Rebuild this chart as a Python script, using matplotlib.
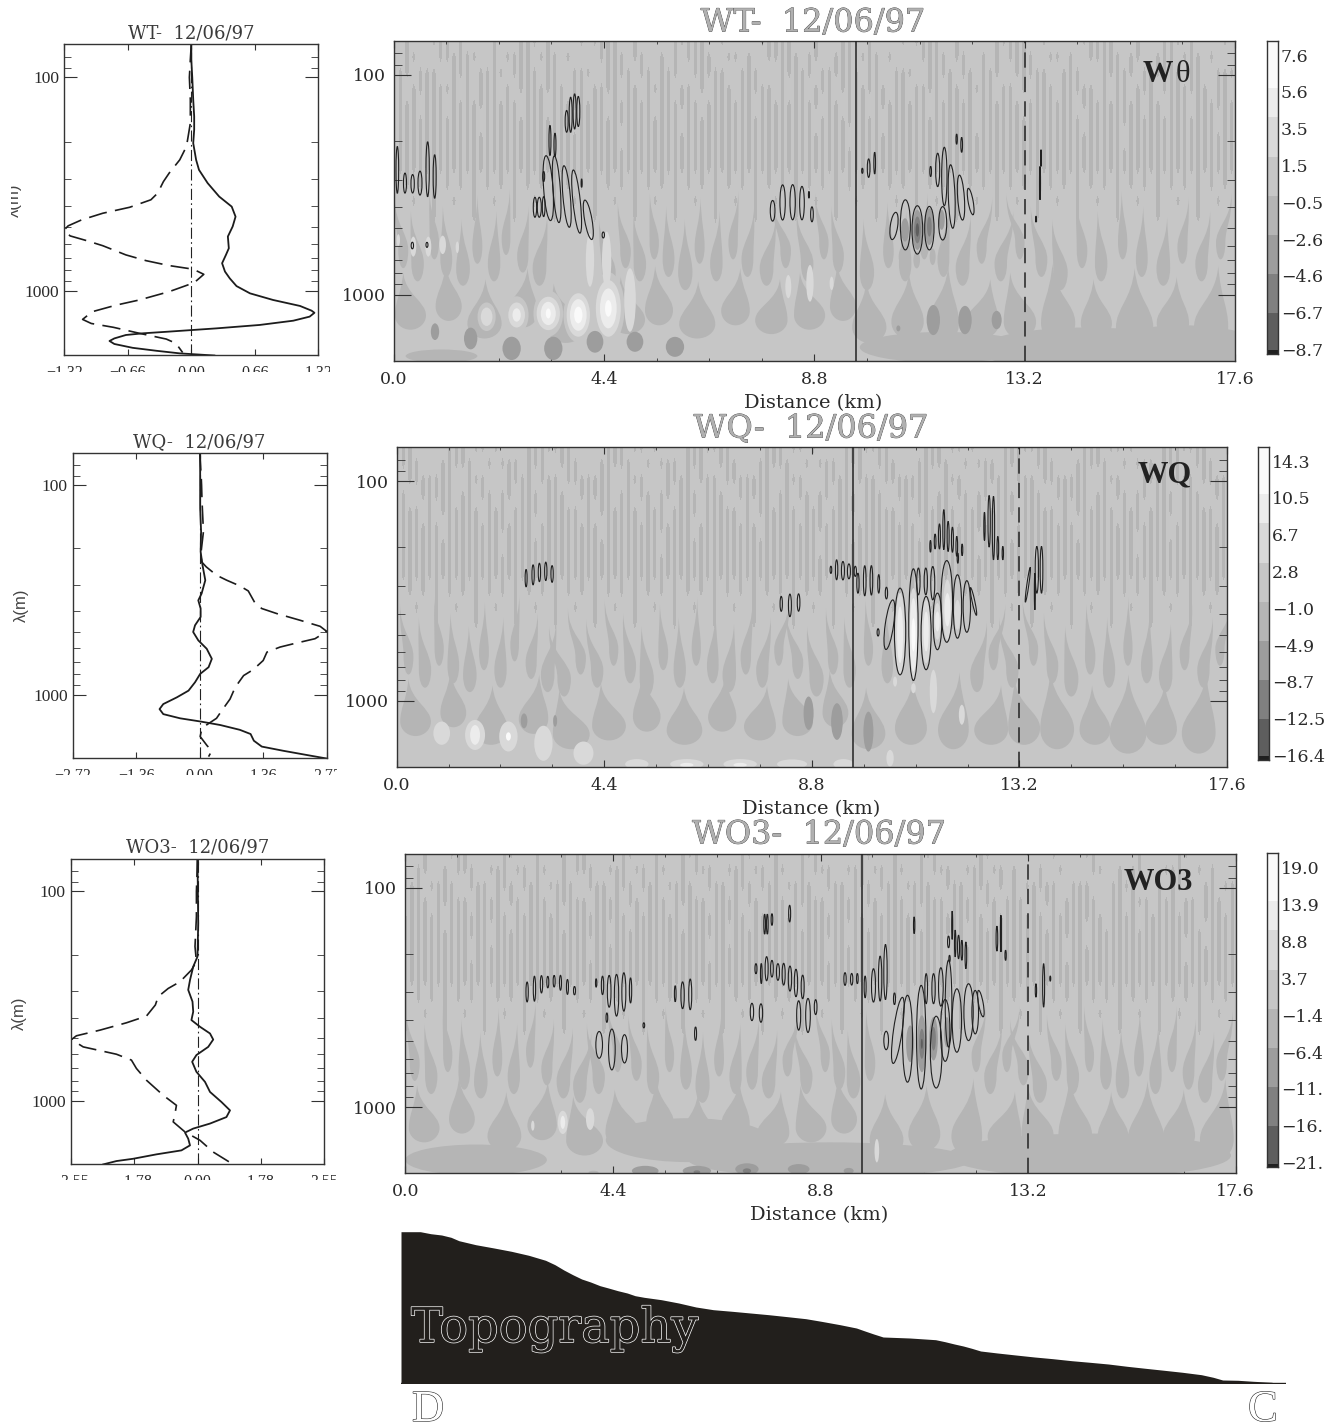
#!/usr/bin/env python3
import numpy as np
import matplotlib
matplotlib.use('Agg')
import matplotlib.pyplot as plt
import matplotlib.patheffects as pe
from matplotlib.colors import ListedColormap
from matplotlib.patches import Ellipse, PathPatch
from matplotlib.path import Path
from matplotlib.ticker import LogLocator, NullFormatter
from matplotlib.transforms import Bbox, IdentityTransform

W, H = 1344, 1424
DATE = '12/06/97'
SERIF = 'DejaVu Serif'
TIMES = 'Liberation Serif'
INK = '#2a2a2a'
GREYS = ['#5e5e5e', '#808080', '#9d9d9d', '#b5b5b5', '#c6c6c6', '#d9d9d9', '#ececec', '#fafafa']

P_MIN, P_MAX = 70, 2000
X_MAX = 17.6
SOLID_X = 9.67
DASH_X = 13.2
FINGER_GROW = 1.3
STRIPE_GAP = 3.75

# ---- mean profiles: x value, log10 of wavelength
WT_SOLID_X = [0.00, 0.00, 0.01, 0.02, 0.03, 0.03, 0.02, 0.05, 0.08, 0.17, 0.29, 0.42, 0.46, 0.43, 0.38, 0.39, 0.36, 0.32, 0.35, 0.40, 0.47, 0.61, 0.85, 1.13, 1.25, 1.28, 1.23, 1.06, 0.71, 0.26, -0.26, -0.50, -0.68, -0.80, -0.85, -0.80, -0.61, -0.36, -0.12, 0.24]
WT_SOLID_P = [1.844, 1.917, 2.000, 2.105, 2.183, 2.245, 2.308, 2.386, 2.433, 2.495, 2.558, 2.605, 2.652, 2.698, 2.745, 2.800, 2.831, 2.870, 2.909, 2.941, 2.977, 3.011, 3.042, 3.070, 3.092, 3.102, 3.120, 3.139, 3.159, 3.175, 3.191, 3.198, 3.206, 3.222, 3.234, 3.248, 3.266, 3.280, 3.292, 3.302]
WT_DASH_X = [0, -0.01, -0.02, -0.01, -0.01, -0.03, -0.05, -0.12, -0.23, -0.29, -0.35, -0.42, -0.64, -0.92, -1.14, -1.28, -1.32, -1.26, -1.09, -0.92, -0.68, -0.47, -0.23, 0.02, 0.13, 0.03, -0.23, -0.54, -0.78, -1.03, -1.13, -1.04, -0.81, -0.54, -0.26, -0.16, -0.09]
WT_DASH_P = [1.844, 1.917, 2.000, 2.105, 2.214, 2.269, 2.323, 2.386, 2.448, 2.488, 2.542, 2.573, 2.608, 2.636, 2.667, 2.695, 2.714, 2.742, 2.764, 2.788, 2.831, 2.858, 2.881, 2.898, 2.922, 2.961, 3.003, 3.042, 3.066, 3.097, 3.133, 3.152, 3.170, 3.198, 3.225, 3.245, 3.288]

WQ_SOLID_X = [0.01, 0.01, 0.01, 0.03, 0.02, 0.06, 0.12, 0.04, -0.03, 0.02, 0.02, -0.10, -0.14, -0.03, 0.15, 0.26, 0.19, 0.01, -0.10, -0.24, -0.49, -0.78, -0.86, -0.78, -0.42, 0.01, 0.44, 0.86, 1.09, 1.16, 1.33, 1.79, 2.29, 2.72]
WQ_SOLID_P = [1.843, 2.000, 2.110, 2.222, 2.318, 2.382, 2.454, 2.518, 2.550, 2.589, 2.629, 2.669, 2.701, 2.741, 2.781, 2.829, 2.869, 2.901, 2.941, 2.981, 3.013, 3.045, 3.069, 3.093, 3.113, 3.128, 3.145, 3.168, 3.188, 3.220, 3.248, 3.268, 3.288, 3.305]
WQ_DASH_X = [0, 0.03, 0.04, 0.05, 0.08, 0.03, 0.04, 0.14, 0.36, 0.58, 0.86, 1.04, 1.19, 1.33, 1.65, 2.15, 2.58, 2.72, 2.47, 2.01, 1.72, 1.44, 1.36, 1.15, 0.94, 0.76, 0.65, 0.47, 0.36, 0.15, 0.04, 0.01, 0.16, 0.26, 0.19]
WQ_DASH_P = [1.843, 1.950, 2.000, 2.078, 2.222, 2.318, 2.366, 2.390, 2.430, 2.454, 2.481, 2.505, 2.565, 2.589, 2.613, 2.645, 2.674, 2.698, 2.733, 2.757, 2.773, 2.797, 2.837, 2.880, 2.909, 2.965, 3.021, 3.077, 3.113, 3.144, 3.168, 3.200, 3.244, 3.268, 3.296]

WO3_SOLID_X = [0, 0.01, 0.02, 0, -0.12, -0.21, -0.26, -0.14, -0.12, -0.17, 0.07, 0.35, 0.44, 0.30, -0.03, -0.15, -0.03, 0.21, 0.35, 0.67, 0.91, 0.81, 0.35, -0.12, -0.35, -0.26, -0.21, -0.45, -1.15, -1.80, -2.27, -2.64]
WO3_SOLID_P = [1.844, 2.000, 2.152, 2.311, 2.359, 2.423, 2.470, 2.526, 2.574, 2.614, 2.646, 2.678, 2.707, 2.742, 2.781, 2.813, 2.861, 2.909, 2.957, 3.005, 3.045, 3.077, 3.108, 3.132, 3.151, 3.180, 3.212, 3.236, 3.255, 3.276, 3.287, 3.303]
WO3_DASH_X = [0, -0.03, -0.03, -0.07, -0.03, -0.17, -0.49, -0.82, -1.10, -1.18, -1.43, -1.99, -2.73, -3.39, -3.53, -3.20, -2.27, -1.85, -1.71, -1.43, -0.96, -0.59, -0.63, -0.68, -0.35, 0.07, 0.44, 1.00]
WO3_DASH_P = [1.844, 2.000, 2.120, 2.263, 2.335, 2.375, 2.431, 2.463, 2.502, 2.542, 2.595, 2.627, 2.662, 2.689, 2.707, 2.742, 2.777, 2.805, 2.845, 2.901, 2.973, 3.021, 3.061, 3.100, 3.148, 3.188, 3.244, 3.303]

# ---- wavelet field, short-wave stripes: each character is one stripe (3 on, 4 off), rows top to bottom
WT_TOP = [
    "443444 333434 444344 433343 444434 333344 344444 333334 434444 433333 444344 433343 444434 333344 344444 333334 434444 433333 444344 433343 444434",
    "343344 433333 344343 333433 343444 433334 334434 343333 443343 443333 343344 333433 343444 433334 334434 343333 443343 443333 343344 333433 343444",
    "333433 344333 433334 333343 344333 443333 433433 344333 334433 344433 333433 333343 344333 443333 433433 344333 334433 344433 333433 333343 344333",
    "334333 333343 433343 433333 334334 333343 343333 433434 333433 333434 334333 433333 334334 333343 343333 433434 333433 333434 334333 433333 334334",
    "333343 334333 333333 343334 333333 334333 333433 333343 333333 433333 333343 343334 333333 334333 333433 333343 333333 433333 333343 343334 333333",
    "333333 333333 343333 333333 333433 333333 333333 343333 333333 333333 333433 333333 343333 333333 333433 333333 333333 343333 333333 333333 333433",
    "333333 333333 333333 333333 333333 333343 333333 333333 333333 333333 333333 334333 333333 333333 333333 333333 333333 333333 343333 333333 333333",
    "333333 333333 333333 333333 333333 333333 333333 333333 333333 333333 333333 333333 333333 333333 333333 333333 333333 333333 333333 333333 333333",
]
WQ_TOP = [
    "333444 443334 334344 443333 333444 443334 334344 443333 333444 443334 334344 443333 333444 443334 334344 443333 333444 443334 334344 443333 333444",
    "433344 433333 443433 343334 433344 433333 443433 343334 433344 433333 443433 343334 433344 433333 443433 343334 433344 433333 443433 343334 433344",
    "343333 333443 334443 333433 343333 333443 334443 333433 343333 333443 334443 333433 343333 333443 334443 333433 343333 333443 334443 333433 343333",
    "334433 333433 433433 433343 334433 333433 433433 433343 334433 333433 433433 433343 334433 333433 433433 433343 334433 333433 433433 433343 334433",
    "333343 433333 343334 333343 333343 433333 343334 333343 333343 433333 343334 333343 333343 433333 343334 333343 333343 433333 343334 333343 333343",
    "333333 343333 333333 333433 333333 343333 333333 333433 333333 343333 333333 333433 333333 343333 333333 333433 333333 343333 333333 333433 333333",
    "333333 333333 333343 333333 333333 333333 333343 333333 333333 333333 333343 333333 333333 333333 333343 333333 333333 333333 333343 333333 333333",
    "333333 333333 333333 333333 333333 333333 333333 333333 333333 333333 333333 333333 333333 333333 333333 333333 333333 333333 333333 333333 333333",
]
WO3_TOP = [
    "444344 433344 444334 443444 343344 444334 443444 333444 444334 443444 333444 444334 443444 333444 444334 444444 443444 433444 444344 444334 444444",
    "343344 343334 433343 343344 343334 433343 343344 343334 433343 343344 343334 433343 343344 343334 433343 343444 344344 443344 343344 433344 343444",
    "333433 334433 343334 333433 334433 343334 333433 334433 343334 333433 334433 343334 333433 334433 343334 343433 333443 334443 333444 343344 433433",
    "433343 333343 333433 433343 333343 333433 433343 333343 333433 433343 333343 333433 433343 333343 333433 433343 433433 333443 343334 333433 433343",
    "333333 433333 333343 333333 433333 333343 333333 433333 333343 333333 433333 333343 333333 433333 333343 333333 343333 333343 333433 333333 433333",
    "333333 333333 343333 333333 333333 343333 333333 333333 343333 333333 333333 343333 333333 333333 343333 333333 333333 343333 333333 333333 343333",
    "333333 333343 333333 333333 333343 333333 333333 333343 333333 333333 333343 333333 333333 333343 333333 333333 333343 333333 333333 333343 333333",
    "333333 333333 333333 333333 333333 333333 333333 333333 333333 333333 333333 333333 333333 333333 333333 333333 333333 333333 333333 333333 333333",
]
# stripes thin out downwards and stop above the long-wave fingers
TAPER_ROWS = ["333333 " * 21, "343434 " * 21, "344344 " * 21, "344444 " * 21]
OFF_ROW = "444444 " * 21
FIELD_ROWS = 21

# ---- long-wave dark fingers: base km, tip offset km, then the depth and width read for all three panels
FINGER_TOP = [2.56, 2.62, 2.53, 2.60, 2.66, 2.55, 2.62, 2.52, 2.60, 2.64, 2.66, 2.58, 2.63, 2.54, 2.60, 2.66, 2.56, 2.62, 2.53, 2.60, 2.65, 2.56, 2.62, 2.54, 2.60, 2.66, 2.58, 2.62, 2.54, 2.60, 2.64, 2.56, 2.62, 2.54, 2.60, 2.66, 2.56, 2.62, 2.53, 2.60, 2.65, 2.56, 2.62, 2.54,
              2.90, 2.86, 2.93, 2.88, 2.95, 2.92, 2.87, 2.94, 2.88, 2.93, 2.90, 2.86, 2.94, 2.90, 2.87, 2.93, 2.90, 2.86, 2.93, 2.88, 2.92, 2.87]
FINGER_BOT = [2.88, 2.94, 2.84, 2.92, 2.96, 2.86, 2.94, 2.82, 2.90, 2.96, 2.98, 2.88, 2.94, 2.84, 2.92, 2.98, 2.86, 2.94, 2.84, 2.92, 2.96, 2.88, 2.94, 2.84, 2.90, 2.98, 2.88, 2.94, 2.84, 2.92, 2.96, 2.86, 2.94, 2.84, 2.92, 2.98, 2.88, 2.94, 2.84, 2.92, 2.96, 2.86, 2.94, 2.84,
              3.16, 3.12, 3.20, 3.15, 3.22, 3.18, 3.14, 3.20, 3.14, 3.18, 3.16, 3.12, 3.22, 3.20, 3.22, 3.20, 3.20, 3.22, 3.20, 3.24, 3.20, 3.24]
FINGER_W = [0.16, 0.2, 0.15, 0.19, 0.22, 0.16, 0.2, 0.14, 0.18, 0.22, 0.22, 0.17, 0.2, 0.15, 0.19, 0.23, 0.16, 0.2, 0.15, 0.19, 0.22, 0.17, 0.2, 0.15, 0.18, 0.23, 0.17, 0.2, 0.15, 0.19, 0.22, 0.16, 0.2, 0.15, 0.19, 0.23, 0.17, 0.2, 0.15, 0.19, 0.22, 0.16, 0.2, 0.15,
            0.5, 0.42, 0.55, 0.48, 0.6, 0.55, 0.45, 0.58, 0.46, 0.52, 0.5, 0.42, 0.55, 0.52, 0.5, 0.55, 0.52, 0.55, 0.5, 0.6, 0.52, 0.55]

WT_FINGER_X = [0.2, 0.5, 0.85, 1.1, 1.45, 1.75, 2.1, 2.35, 2.7, 3.05, 4.5, 4.85, 5.15, 5.45, 5.75, 6.1, 6.4, 6.75, 7.1, 7.4, 7.8, 8.2, 8.65, 9.0, 9.3, 9.9, 10.35, 10.7, 11.1, 11.5, 11.9, 12.3, 12.7, 13.1, 13.55, 13.95, 14.4, 14.8, 15.25, 15.65, 16.1, 16.5, 16.9, 17.3,
               0.35, 1.15, 1.9, 2.7, 3.6, 4.9, 5.55, 6.35, 7.15, 7.9, 8.7, 9.4, 9.95, 10.75, 11.5, 12.3, 13.1, 13.9, 14.7, 15.5, 16.3, 17.1]
WT_FINGER_L = [-0.18, -0.14, -0.1, -0.07, -0.03, 0, 0.05, 0.08, 0.12, 0.16, -0.2, -0.16, -0.13, -0.09, -0.05, -0.01, 0.02, 0.07, 0.11, 0.14, 0.19, -0.28, -0.22, -0.18, -0.14, -0.07, -0.02, 0.02, 0.07, 0.12, 0.17, 0.22, 0.26, -0.28, -0.22, -0.17, -0.12, -0.07, -0.02, 0.03, 0.08, 0.13, 0.18, 0.23,
               -0.15, -0.06, 0.02, 0.1, -0.25, -0.15, -0.08, 0.02, 0.1, 0.18, -0.2, -0.12, -0.06, 0.03, 0.1, 0.18, -0.2, -0.12, -0.06, 0, 0.08, 0.15]
WQ_FINGER_X = [0.25, 0.6, 0.9, 1.2, 1.55, 1.85, 2.2, 2.5, 2.85, 3.2, 3.55, 3.9, 4.25, 4.6, 4.95, 5.3, 5.65, 6.0, 6.35, 6.7, 7.05, 7.4, 7.75, 8.1, 8.5, 8.9, 9.25, 9.6, 10.0, 10.4, 12.3, 12.65, 13.05, 13.5, 13.9, 14.3, 14.7, 15.1, 15.5, 15.9, 16.3, 16.7, 17.1, 17.45,
               0.4, 1.2, 2.0, 2.9, 3.7, 4.5, 5.3, 6.1, 6.9, 7.7, 8.5, 9.3, 10.0, 10.9, 11.8, 12.6, 13.3, 14.0, 14.8, 15.5, 16.2, 17.0]
WQ_FINGER_L = [-0.18, -0.13, -0.1, -0.06, -0.02, 0.02, 0.06, 0.1, 0.14, 0.18, -0.32, -0.27, -0.23, -0.19, -0.15, -0.11, -0.07, -0.02, 0.02, 0.06, 0.1, 0.14, 0.18, 0.23, -0.24, -0.2, -0.15, -0.11, -0.06, -0.01, 0.21, 0.25, -0.28, -0.23, -0.18, -0.13, -0.08, -0.04, 0.01, 0.06, 0.11, 0.16, 0.2, 0.25,
               -0.15, -0.06, 0.03, 0.12, -0.25, -0.17, -0.09, -0.01, 0.07, 0.15, -0.2, -0.12, -0.05, 0.04, 0.13, 0.21, -0.2, -0.14, -0.06, 0.01, 0.08, 0.16]
WO3_FINGER_X = [0.2, 0.55, 0.9, 1.25, 1.6, 1.95, 2.3, 2.65, 3.0, 3.35, 3.7, 4.9, 5.25, 5.6, 5.95, 6.3, 6.65, 7.0, 8.9, 9.2, 9.5, 9.85, 12.4, 12.75, 13.1, 13.45, 13.8, 14.15, 14.5, 14.85, 15.2, 15.55, 15.9, 16.25, 16.6, 16.95, 17.3, 4.1, 4.5, 7.35, 7.7, 8.1, 8.5, 12.1,
                0.4, 1.2, 2.1, 2.9, 3.8, 4.6, 5.4, 6.2, 7.0, 7.8, 8.6, 9.3, 10.2, 11.0, 11.9, 12.7, 13.4, 14.2, 15.0, 15.7, 16.4, 17.2]
WO3_FINGER_L = [-0.18, -0.14, -0.1, -0.06, -0.01, 0.03, 0.07, 0.11, 0.15, 0.2, 0.24, -0.17, -0.12, -0.08, -0.03, 0.01, 0.05, 0.1, -0.2, -0.16, -0.12, -0.08, 0.24, 0.27, -0.28, -0.24, -0.2, -0.16, -0.11, -0.07, -0.03, 0.02, 0.06, 0.1, 0.15, 0.19, 0.24, -0.25, -0.21, 0.14, 0.18, 0.23, -0.25, 0.2,
                -0.15, -0.06, 0.04, 0.12, -0.24, -0.16, -0.08, 0, 0.08, 0.16, -0.22, -0.13, -0.03, 0.05, 0.14, 0.22, -0.2, -0.12, -0.04, 0.03, 0.1, 0.18]

# ---- bright and dark spots of the field: km, log10 wavelength, width km, height decades, grey band
WT_SPOT_X = [14.5, 16.5, 11.5, 1.0, 3.234, 3.862, 4.49, 2.572, 1.944, 1.944, 2.572, 2.572, 3.234, 3.234, 3.234, 3.862, 3.862, 3.862, 4.49, 4.49, 4.49, 4.106, 4.455, 4.943, 8.255, 8.708, 9.161, 0.41, 0.724, 1.024, 1.331, 0.097, 0.864, 1.61, 2.467, 3.339, 4.211, 5.047, 5.884, 11.289, 11.952, 12.614, 10.557, 10.696, 10.955, 10.955, 10.955, 11.206, 11.206, 11.464, 10.627, 10.941, 11.275]
WT_SPOT_P = [3.25, 3.25, 3.24, 3.28, 3.086, 3.093, 3.063, 3.093, 3.101, 3.101, 3.093, 3.093, 3.086, 3.086, 3.086, 3.093, 3.093, 3.093, 3.063, 3.063, 3.063, 2.843, 2.843, 3.025, 2.964, 2.949, 2.949, 2.782, 2.782, 2.774, 2.785, 2.752, 3.169, 3.2, 3.245, 3.245, 3.215, 3.215, 3.238, 3.116, 3.116, 3.116, 3.154, 2.706, 2.706, 2.706, 2.706, 2.691, 2.691, 2.66, 2.828, 2.843, 2.828]
WT_SPOT_W = [4.5, 3.5, 3.5, 1.5, 0.62, 0.62, 0.68, 0.5, 0.38, 0.244, 0.349, 0.174, 0.488, 0.314, 0.105, 0.488, 0.349, 0.174, 0.523, 0.349, 0.139, 0.174, 0.195, 0.244, 0.125, 0.153, 0.084, 0.125, 0.125, 0.139, 0.07, 0.07, 0.174, 0.279, 0.383, 0.383, 0.349, 0.349, 0.383, 0.279, 0.279, 0.209, 0.084, 0.167, 0.209, 0.139, 0.07, 0.181, 0.098, 0.125, 0.125, 0.139, 0.125]
WT_SPOT_H = [0.2, 0.22, 0.14, 0.06, 0.21, 0.25, 0.33, 0.17, 0.13, 0.084, 0.114, 0.061, 0.152, 0.106, 0.046, 0.198, 0.144, 0.076, 0.258, 0.182, 0.076, 0.243, 0.258, 0.289, 0.106, 0.167, 0.061, 0.091, 0.091, 0.084, 0.053, 0.053, 0.076, 0.099, 0.106, 0.106, 0.099, 0.091, 0.091, 0.137, 0.129, 0.084, 0.027, 0.106, 0.182, 0.122, 0.061, 0.167, 0.091, 0.091, 0.076, 0.076, 0.076]
WT_SPOT_B = [3, 3, 3, 3, 4, 4, 4, 4, 4, 5, 5, 6, 5, 6, 7, 5, 6, 7, 5, 6, 7, 5, 5, 5, 5, 5, 5, 5, 5, 5, 5, 5, 2, 2, 2, 2, 2, 2, 2, 2, 2, 2, 2, 2, 2, 1, 0, 2, 1, 2, 3, 3, 3]

WQ_SPOT_X = [0.954, 1.661, 1.661, 2.368, 2.368, 3.11, 3.959, 5.09, 6.15, 6.15, 7.28, 7.28, 8.38, 9.47, 2.70, 3.358, 8.731, 9.332, 10.67, 10.67, 10.953, 10.953, 10.953, 11.222, 11.222, 11.462, 11.462, 11.674, 11.674, 11.887, 10.564, 10.953, 11.377, 11.979, 10.458, 9.999]
WQ_SPOT_P = [3.147, 3.155, 3.155, 3.162, 3.162, 3.193, 3.238, 3.288, 3.288, 3.292, 3.288, 3.292, 3.288, 3.288, 3.091, 3.091, 3.056, 3.094, 2.699, 2.699, 2.699, 2.699, 2.699, 2.684, 2.684, 2.638, 2.638, 2.585, 2.585, 2.608, 2.912, 2.942, 2.957, 3.063, 3.261, 3.14]
WQ_SPOT_W = [0.354, 0.424, 0.21, 0.389, 0.106, 0.389, 0.424, 0.495, 0.707, 0.283, 0.707, 0.283, 0.636, 0.424, 0.141, 0.085, 0.212, 0.247, 0.198, 0.127, 0.212, 0.156, 0.085, 0.198, 0.113, 0.156, 0.099, 0.184, 0.127, 0.127, 0.085, 0.099, 0.156, 0.127, 0.156, 0.212]
WQ_SPOT_H = [0.106, 0.137, 0.09, 0.137, 0.038, 0.16, 0.106, 0.046, 0.046, 0.02, 0.046, 0.02, 0.043, 0.046, 0.068, 0.053, 0.152, 0.167, 0.38, 0.258, 0.425, 0.334, 0.152, 0.289, 0.182, 0.167, 0.091, 0.274, 0.152, 0.137, 0.046, 0.046, 0.198, 0.091, 0.076, 0.182]
WQ_SPOT_B = [5, 5, 6, 5, 7, 5, 5, 5, 5, 6, 5, 6, 5, 5, 2, 2, 2, 2, 5, 6, 5, 6, 7, 5, 6, 5, 6, 5, 6, 5, 5, 5, 5, 5, 5, 2]

WO3_SPOT_X = [14.5, 9.0, 1.5, 6.0, 3.338, 3.338, 3.918, 2.702, 5.085, 6.18, 6.18, 7.241, 7.241, 8.337, 9.397, 3.989, 10.7, 10.948, 10.948, 10.948, 11.196, 11.196, 11.479, 9.994]
WO3_SPOT_P = [3.22, 3.24, 3.24, 3.15, 3.069, 3.069, 3.054, 3.084, 3.29, 3.29, 3.295, 3.282, 3.29, 3.282, 3.29, 3.297, 2.711, 2.711, 2.711, 2.711, 2.688, 2.688, 2.658, 3.198]
WO3_SPOT_W = [6.0, 6.0, 3.0, 3.5, 0.212, 0.1, 0.177, 0.071, 0.566, 0.601, 0.141, 0.495, 0.177, 0.46, 0.212, 0.212, 0.17, 0.198, 0.113, 0.042, 0.184, 0.099, 0.127, 0.099]
WO3_SPOT_H = [0.2, 0.16, 0.14, 0.2, 0.106, 0.06, 0.099, 0.046, 0.046, 0.046, 0.015, 0.053, 0.023, 0.046, 0.027, 0.015, 0.167, 0.259, 0.137, 0.046, 0.198, 0.107, 0.137, 0.107]
WO3_SPOT_B = [3, 3, 3, 3, 5, 6, 5, 5, 2, 2, 1, 2, 1, 2, 2, 3, 2, 2, 1, 0, 2, 1, 2, 5]

# ---- significance contours: centre km, centre log10 wavelength, width km, height decades, tilt deg
WT_SIG_X = [0.076, 0.236, 0.396, 0.55, 0.71, 0.857, 0.39, 0.696, 2.955, 3.046, 3.137, 3.137, 3.269, 3.374, 3.234, 3.409, 3.618, 3.827, 3.932, 4.071, 4.385, 3.618, 3.702, 3.785, 3.862, 7.927, 8.136, 8.346, 8.541, 8.687, 8.75, 9.804, 9.936, 10.062, 10.466, 10.704, 10.955, 11.206, 11.485, 11.519, 11.38, 11.233, 11.673, 11.868, 12.07, 11.777, 11.882, 13.542, 13.521, 13.437]
WT_SIG_P = [2.433, 2.493, 2.496, 2.493, 2.430, 2.463, 2.777, 2.774, 2.603, 2.603, 2.600, 2.463, 2.299, 2.319, 2.516, 2.521, 2.554, 2.577, 2.493, 2.660, 2.729, 2.212, 2.182, 2.167, 2.167, 2.619, 2.581, 2.580, 2.584, 2.546, 2.635, 2.437, 2.425, 2.402, 2.688, 2.683, 2.706, 2.698, 2.676, 2.463, 2.433, 2.440, 2.554, 2.559, 2.577, 2.293, 2.319, 2.379, 2.493, 2.657]
WT_SIG_W = [0.056, 0.063, 0.07, 0.084, 0.07, 0.063, 0.049, 0.042, 0.07, 0.084, 0.056, 0.042, 0.042, 0.042, 0.196, 0.154, 0.154, 0.154, 0.021, 0.154, 0.049, 0.063, 0.063, 0.063, 0.063, 0.098, 0.112, 0.112, 0.098, 0.021, 0.056, 0.028, 0.056, 0.035, 0.154, 0.21, 0.224, 0.196, 0.168, 0.112, 0.084, 0.035, 0.14, 0.14, 0.105, 0.028, 0.035, 0.014, 0.021, 0.014]
WT_SIG_H = [0.213, 0.091, 0.084, 0.109, 0.25, 0.198, 0.03, 0.023, 0.091, 0.091, 0.091, 0.046, 0.137, 0.106, 0.296, 0.304, 0.281, 0.289, 0.038, 0.182, 0.027, 0.099, 0.16, 0.16, 0.137, 0.094, 0.16, 0.16, 0.152, 0.03, 0.068, 0.023, 0.084, 0.099, 0.125, 0.228, 0.22, 0.198, 0.152, 0.266, 0.152, 0.046, 0.289, 0.205, 0.122, 0.046, 0.068, 0.076, 0.152, 0.027]
WT_SIG_T = [0, 0, 0, 0, 0, 0, 0, 0, 0, 0, 0, 0, 0, 0, 4, 4, 5, 6, 0, 10, 0, 0, 0, 0, 0, 0, 0, 0, 0, 0, 0, 0, 0, 0, -8, 0, 0, 0, 0, 0, 0, 0, 2, 4, 10, 0, 0, 0, 0, 0]

WQ_SIG_X = [2.743, 2.891, 3.025, 3.16, 3.294, 8.151, 8.335, 8.519, 9.204, 9.325, 9.459, 9.586, 9.721, 9.777, 9.921, 10.062, 10.218, 10.381, 10.204, 10.444, 10.67, 10.953, 11.222, 11.059, 11.215, 11.363, 11.462, 11.66, 11.887, 12.085, 12.226, 11.314, 11.413, 11.505, 11.597, 11.689, 11.78, 11.872, 11.986, 11.894, 12.459, 12.558, 12.65, 12.742, 12.848, 13.378, 13.527, 13.569, 13.668]
WQ_SIG_P = [2.441, 2.426, 2.415, 2.410, 2.422, 2.558, 2.565, 2.552, 2.403, 2.403, 2.407, 2.410, 2.410, 2.464, 2.453, 2.451, 2.467, 2.509, 2.688, 2.653, 2.684, 2.653, 2.691, 2.456, 2.456, 2.464, 2.638, 2.547, 2.570, 2.570, 2.547, 2.296, 2.274, 2.251, 2.220, 2.251, 2.266, 2.296, 2.312, 2.350, 2.205, 2.182, 2.213, 2.304, 2.327, 2.471, 2.502, 2.403, 2.403]
WQ_SIG_W = [0.042, 0.049, 0.049, 0.049, 0.049, 0.049, 0.063, 0.056, 0.035, 0.049, 0.063, 0.063, 0.049, 0.049, 0.056, 0.056, 0.042, 0.049, 0.042, 0.177, 0.24, 0.198, 0.212, 0.07, 0.07, 0.085, 0.184, 0.247, 0.177, 0.156, 0.057, 0.028, 0.035, 0.042, 0.042, 0.042, 0.042, 0.035, 0.028, 0.028, 0.028, 0.049, 0.049, 0.035, 0.028, 0.042, 0.021, 0.07, 0.056]
WQ_SIG_H = [0.079, 0.091, 0.084, 0.084, 0.076, 0.068, 0.103, 0.079, 0.033, 0.091, 0.084, 0.068, 0.046, 0.091, 0.137, 0.134, 0.084, 0.053, 0.033, 0.228, 0.395, 0.509, 0.334, 0.122, 0.122, 0.152, 0.258, 0.372, 0.289, 0.235, 0.129, 0.053, 0.068, 0.114, 0.182, 0.137, 0.114, 0.091, 0.053, 0.046, 0.129, 0.235, 0.289, 0.106, 0.061, 0.16, 0.167, 0.213, 0.213]
WQ_SIG_T = [0] * 19 + [-8] + [0] * 10 + [12] + [0] * 14 + [-8, 0, 0, 0]

WO3_SIG_X = [2.582, 2.737, 2.886, 3.02, 3.155, 3.289, 3.437, 3.586, 4.045, 4.18, 4.321, 4.477, 4.632, 4.774, 4.272, 4.109, 4.378, 4.646, 5.056, 5.721, 5.877, 6.039, 6.152, 7.347, 7.538, 7.432, 7.545, 7.658, 7.771, 7.898, 8.019, 8.153, 8.28, 8.422, 8.337, 8.535, 8.697, 7.616, 7.673, 7.771, 8.146, 9.32, 9.461, 9.581, 9.746, 9.923, 10.064, 10.177, 10.368, 10.192, 10.439, 10.644, 10.934, 11.252, 11.04, 11.196, 11.351, 11.443, 11.514, 11.69, 11.938, 12.079, 12.199, 10.785, 11.591, 11.514, 11.655, 11.726, 11.796, 11.881, 11.535, 12.539, 12.624, 12.723, 13.366, 13.529, 13.67]
WO3_SIG_P = [2.475, 2.460, 2.440, 2.430, 2.426, 2.433, 2.452, 2.469, 2.434, 2.445, 2.472, 2.490, 2.475, 2.468, 2.592, 2.716, 2.737, 2.734, 2.627, 2.483, 2.490, 2.486, 2.665, 2.566, 2.571, 2.369, 2.391, 2.369, 2.369, 2.384, 2.394, 2.414, 2.434, 2.452, 2.582, 2.582, 2.544, 2.166, 2.166, 2.145, 2.118, 2.416, 2.417, 2.414, 2.452, 2.445, 2.414, 2.384, 2.506, 2.696, 2.650, 2.688, 2.681, 2.749, 2.460, 2.460, 2.452, 2.650, 2.528, 2.605, 2.567, 2.567, 2.528, 2.171, 2.171, 2.247, 2.254, 2.270, 2.285, 2.308, 2.323, 2.232, 2.209, 2.308, 2.468, 2.445, 2.414]
WO3_SIG_W = [0.049, 0.049, 0.049, 0.042, 0.042, 0.042, 0.042, 0.042, 0.028, 0.049, 0.078, 0.092, 0.085, 0.049, 0.035, 0.141, 0.141, 0.127, 0.035, 0.035, 0.071, 0.064, 0.042, 0.071, 0.071, 0.042, 0.035, 0.064, 0.057, 0.064, 0.064, 0.071, 0.071, 0.064, 0.085, 0.099, 0.057, 0.035, 0.035, 0.035, 0.042, 0.049, 0.049, 0.035, 0.042, 0.085, 0.071, 0.071, 0.042, 0.099, 0.184, 0.212, 0.198, 0.247, 0.057, 0.071, 0.099, 0.198, 0.141, 0.198, 0.198, 0.141, 0.099, 0.028, 0.021, 0.042, 0.028, 0.042, 0.035, 0.035, 0.028, 0.035, 0.021, 0.028, 0.028, 0.042, 0.021]
WO3_SIG_H = [0.091, 0.114, 0.079, 0.053, 0.053, 0.068, 0.068, 0.038, 0.038, 0.084, 0.145, 0.19, 0.175, 0.114, 0.043, 0.122, 0.186, 0.129, 0.023, 0.073, 0.122, 0.14, 0.061, 0.079, 0.084, 0.046, 0.091, 0.11, 0.076, 0.076, 0.099, 0.114, 0.125, 0.107, 0.134, 0.155, 0.068, 0.091, 0.091, 0.053, 0.076, 0.058, 0.053, 0.046, 0.099, 0.152, 0.205, 0.251, 0.053, 0.084, 0.304, 0.396, 0.472, 0.327, 0.137, 0.137, 0.175, 0.282, 0.396, 0.289, 0.259, 0.198, 0.122, 0.076, 0.129, 0.053, 0.122, 0.107, 0.091, 0.122, 0.03, 0.114, 0.167, 0.046, 0.061, 0.198, 0.023]
WO3_SIG_T = [0] * 50 + [-8] + [0] * 11 + [10] + [0] * 14

# ---- colour bars
WT_CB = ['7.6', '5.6', '3.5', '1.5', '\u22120.5', '\u22122.6', '\u22124.6', '\u22126.7', '\u22128.7']
WQ_CB = ['14.3', '10.5', '6.7', '2.8', '\u22121.0', '\u22124.9', '\u22128.7', '\u221212.5', '\u221216.4']
WO3_CB = ['19.0', '13.9', '8.8', '3.7', '\u22121.4', '\u22126.4', '\u221211.', '\u221216.', '\u221221.']

# ---- topography profile
TOPO_KM = [0, 0.39, 0.60, 0.82, 1.01, 1.17, 1.51, 1.88, 2.23, 2.58, 2.92, 3.11, 3.29, 3.47, 3.65, 3.83, 4.02, 4.19, 4.38, 4.57, 4.73, 4.91, 5.26, 5.61, 5.96, 6.31, 6.69, 7.06, 7.43, 7.81, 8.18, 8.49, 8.87, 9.20, 9.39, 9.55, 9.74, 10.28, 10.80, 10.99, 11.18, 11.36, 11.53, 11.71, 12.05, 12.42, 12.80, 13.17, 13.55, 13.92, 14.29, 14.67, 15.04, 15.42, 15.79, 16.17, 16.41, 16.60, 16.91, 17.22, 17.60]
TOPO_H = [151.3, 151.3, 149.3, 148, 145.7, 142.3, 138.3, 135, 131.7, 127.7, 122.7, 118.3, 113, 108.3, 104, 101, 97.3, 95, 92.3, 90, 87.3, 85.7, 83.3, 80, 76, 73.3, 71.7, 70, 68.3, 66.3, 64.3, 61.7, 58.3, 55, 51.7, 49, 46, 45, 43.3, 41.3, 39, 37, 34.7, 32, 30, 28, 26, 24.3, 22.3, 20.7, 19, 16.7, 14.7, 12.7, 10.7, 8.3, 5.7, 3, 2.7, 1.7, 0.7]

plt.rcParams['font.family'] = [SERIF]
plt.rcParams['axes.linewidth'] = 1.0
plt.rcParams['axes.edgecolor'] = '#333333'
plt.rcParams['xtick.color'] = '#333333'
plt.rcParams['ytick.color'] = '#333333'
plt.rcParams['xtick.labelcolor'] = INK
plt.rcParams['ytick.labelcolor'] = INK

fig = plt.figure(figsize=(W / 100, H / 100), dpi=100)


def box(x0, y0, x1, y1):
    """axes rectangle from pixel edges, y counted from the top"""
    return [x0 / W, 1 - y1 / H, (x1 - x0) / W, (y1 - y0) / H]


def put(x, y, s, **kw):
    return fig.text(x / W, 1 - y / H, s, **kw)


def px(v):
    return v * 0.72


def clip_to(artist, x0, y0, x1, y1):
    artist.set_clip_box(Bbox([[x0, H - y1], [x1, H - y0]]))
    artist.set_clip_on(True)


def log_axis(ax, major, minor):
    ax.set_yscale('log')
    ax.set_ylim(P_MAX, P_MIN)
    ax.yaxis.set_major_locator(LogLocator(base=10, numticks=5))
    ax.yaxis.set_minor_locator(LogLocator(base=10, subs=np.arange(2, 10), numticks=5))
    ax.yaxis.set_minor_formatter(NullFormatter())
    ax.set_yticks([100, 1000])
    ax.set_yticklabels(['100', '1000'])
    ax.tick_params(axis='y', which='major', direction='in', left=True, right=True, length=px(major))
    ax.tick_params(axis='y', which='minor', direction='in', left=True, right=True, length=px(minor))


def profile_panel(rect, name, limit, ticks, solid, dash, title_xy, lam_xy, clip_y, clip_x, lam_clip=None):
    ax = fig.add_axes(box(*rect))
    ax.set_xlim(-limit, limit)
    log_axis(ax, 13, 7)
    ax.set_xticks([-limit, -limit / 2, 0, limit / 2, limit])
    ax.set_xticklabels(ticks, family=TIMES, size=11.5)
    ax.tick_params(axis='x', direction='in', top=True, bottom=True, length=px(6), pad=px(10))
    ax.tick_params(axis='y', which='major', labelsize=12.5, pad=px(5))
    for label in ax.get_yticklabels():
        label.set_family(TIMES)
    for label in ax.get_xticklabels():
        clip_to(label, 0, 0, clip_x, clip_y)
    ax.axvline(0, color='#222222', lw=0.8, ls=(0, (10, 3, 1.5, 3)))
    ax.plot(dash[0], 10 ** np.array(dash[1]), color='#1c1c1c', lw=1.2, dashes=(11, 5))
    ax.plot(solid[0], 10 ** np.array(solid[1]), color='#1c1c1c', lw=1.3)
    put(title_xy[0], title_xy[1], f'{name}-  {DATE}', ha='center', va='center', size=13, color='#3a3a3a')
    t = put(lam_xy[0], lam_xy[1], '\u03bb(m)', rotation=90, ha='center', va='center',
            family='Liberation Sans', size=12, color='#444444')
    if lam_clip is not None:
        clip_to(t, lam_clip, 0, W, H)
    return ax


def pixel_ellipse(ax, rect, x, lp, w, h, tilt=0, **kw):
    """ellipse on the km / log-wavelength axes, drawn in pixels so it can lean"""
    ax_w = rect[2] - rect[0]
    per_decade = (rect[3] - rect[1]) / np.log10(P_MAX / P_MIN)
    cx, cy = ax.transData.transform((x, 10 ** lp))
    ax.add_patch(Ellipse((cx, cy), w / X_MAX * ax_w, h * per_decade, angle=tilt,
                         transform=IdentityTransform(), **kw))


def finger(ax, rect, x, lean, top, bot, w, color):
    """dark drip: pointed tip up at top, round base down at bot"""
    half = FINGER_GROW * w / X_MAX * (rect[2] - rect[0]) / 2
    tx, ty = ax.transData.transform((x + lean, 10 ** top))
    bx, by = ax.transData.transform((x, 10 ** bot))
    ym = by + (ty - by) * 0.25
    verts = [(tx, ty),
             (tx + 0.15 * half, ty - (ty - by) * 0.4), (bx + half, ym + (ty - by) * 0.25), (bx + half, ym),
             (bx + half, by + (ym - by) * 0.45), (bx + 0.55 * half, by), (bx, by),
             (bx - 0.55 * half, by), (bx - half, by + (ym - by) * 0.45), (bx - half, ym),
             (bx - half, ym + (ty - by) * 0.25), (tx - 0.15 * half, ty - (ty - by) * 0.4), (tx, ty)]
    codes = [Path.MOVETO] + [Path.CURVE4] * 12
    ax.add_patch(PathPatch(Path(verts, codes), transform=IdentityTransform(), fc=color, ec='none', zorder=1.5))


def field_panel(rect, name, top, fingers, spots, sig, cb_rect, cb_labels, title_xy, dist_xy, tag, tag_xy, cb_clip):
    ax = fig.add_axes(box(*rect))
    ax.set_xlim(0, X_MAX)
    log_axis(ax, 17, 8)
    levels = np.arange(-0.5, 8.5, 1)
    rows = top + TAPER_ROWS
    rows = rows + [OFF_ROW] * (FIELD_ROWS - len(rows))
    z = []
    for r in rows:
        line = []
        for c in r.replace(' ', ''):
            line += [int(c), STRIPE_GAP]
        z.append(line)
    z = np.array(z, dtype=float)
    xs = np.linspace(0, X_MAX, z.shape[1])
    ys = np.geomspace(P_MIN, P_MAX, z.shape[0])
    ax.contourf(xs, ys, z, levels=levels, colors=GREYS)
    for x, lean, t, b, w in zip(fingers[0], fingers[1], FINGER_TOP, FINGER_BOT, FINGER_W):
        finger(ax, rect, x, lean, t, b, w, GREYS[3])
    for x, lp, w, h, b in zip(*spots):
        pixel_ellipse(ax, rect, x, lp, w, h, fc=GREYS[b], ec='none', zorder=2)
    ax.set_xticks(np.arange(0, 17.7, 4.4))
    ax.set_xticklabels(['0.0', '4.4', '8.8', '13.2', '17.6'])
    ax.set_xticks(np.arange(0, 17.7, 1.1), minor=True)
    ax.tick_params(axis='x', which='major', direction='in', top=True, bottom=True, length=px(7), pad=px(10), labelsize=12.5)
    ax.tick_params(axis='x', which='minor', direction='in', top=True, bottom=True, length=px(3))
    ax.tick_params(axis='y', which='major', labelsize=12.5, pad=px(8))
    ax.axvline(SOLID_X, color='#222222', lw=1.1, zorder=4)
    ax.axvline(DASH_X, color='#222222', lw=1.1, dashes=(10, 6), zorder=4)
    for x, lp, w, h, t in zip(*sig):
        pixel_ellipse(ax, rect, x, lp, w, h, t, fill=False, ec='#202020', lw=0.8, zorder=3)
    put(title_xy[0], title_xy[1], f'{name}-  {DATE}', ha='center', va='center', size=23, color='#b0b0b0',
        path_effects=[pe.Stroke(linewidth=0.5, foreground='#3a3a3a'), pe.Normal()])
    put(dist_xy[0], dist_xy[1], 'Distance (km)', ha='center', va='center', size=14, color=INK)
    put(tag_xy[0], tag_xy[1], tag, ha='left', va='baseline', family=TIMES, weight='bold', size=22, color='#222222')
    if tag == 'W':
        put(tag_xy[0] + 33, tag_xy[1], '\u03b8', ha='left', va='baseline', family=TIMES, size=22, color='#222222')
    # colour bar
    cax = fig.add_axes(box(*cb_rect))
    edges = [0, 0.012, 0.131, 0.256, 0.38, 0.505, 0.628, 0.756, 0.848, 1]
    band = np.array([[-1], [0], [1], [2], [3], [4], [5], [6], [7]])
    cax.pcolormesh([0, 1], edges, band, cmap=ListedColormap(['#202020'] + GREYS), vmin=-1, vmax=7)
    cax.set_xlim(0, 1)
    cax.set_ylim(0, 1)
    cax.set_xticks([])
    cax.yaxis.tick_right()
    cax.set_yticks(0.954 - 0.1174 * np.arange(len(cb_labels)))
    cax.set_yticklabels(cb_labels, size=12.5)
    cax.tick_params(axis='y', length=0, pad=px(3))
    for label in cax.get_yticklabels():
        clip_to(label, 0, 0, cb_clip, H)
    return ax


# ---- left column
profile_panel((64.3, 44.3, 318.3, 355.3), 'WT', 1.32, ['\u22121.32', '\u22120.66', '0.00', '0.66', '1.32'],
              (WT_SOLID_X, WT_SOLID_P), (WT_DASH_X, WT_DASH_P), (191, 33), (14.5, 200), 372, 330, lam_clip=10.5)
profile_panel((72.7, 452.7, 326.7, 757.7), 'WQ', 2.72, ['\u22122.72', '\u22121.36', '0.00', '1.36', '2.72'],
              (WQ_SOLID_X, WQ_SOLID_P), (WQ_DASH_X, WQ_DASH_P), (199, 442), (21, 605), 775, 337)
profile_panel((70.7, 859, 324.3, 1164), 'WO3', 3.55, ['\u22123.55', '\u22121.78', '0.00', '1.78', '3.55'],
              (WO3_SOLID_X, WO3_SOLID_P), (WO3_DASH_X, WO3_DASH_P), (198, 848), (19, 1013), 1180, 336)

# ---- right column
field_panel((393.7, 40.7, 1235, 360.7), 'WT', WT_TOP, (WT_FINGER_X, WT_FINGER_L),
            (WT_SPOT_X, WT_SPOT_P, WT_SPOT_W, WT_SPOT_H, WT_SPOT_B),
            (WT_SIG_X, WT_SIG_P, WT_SIG_W, WT_SIG_H, WT_SIG_T),
            (1266.7, 40.7, 1277.7, 354), WT_CB, (813, 23), (813, 403), 'W', (1143, 82), 1322)
field_panel((396.7, 447.3, 1227, 767), 'WQ', WQ_TOP, (WQ_FINGER_X, WQ_FINGER_L),
            (WQ_SPOT_X, WQ_SPOT_P, WQ_SPOT_W, WQ_SPOT_H, WQ_SPOT_B),
            (WQ_SIG_X, WQ_SIG_P, WQ_SIG_W, WQ_SIG_H, WQ_SIG_T),
            (1258.3, 446.7, 1269, 760), WQ_CB, (811, 429), (811, 809), 'WQ', (1138, 482), 1330)
field_panel((405.3, 853.7, 1235.7, 1173.3), 'WO3', WO3_TOP, (WO3_FINGER_X, WO3_FINGER_L),
            (WO3_SPOT_X, WO3_SPOT_P, WO3_SPOT_W, WO3_SPOT_H, WO3_SPOT_B),
            (WO3_SIG_X, WO3_SIG_P, WO3_SIG_W, WO3_SIG_H, WO3_SIG_T),
            (1266.7, 853.3, 1277.7, 1167.3), WO3_CB, (819, 835), (819, 1215), 'WO3', (1124, 890), 1322)

# ---- topography strip
tax = fig.add_axes(box(401, 1228, 1286, 1384))
tax.fill_between(TOPO_KM, 0, TOPO_H, color='#221f1c', lw=0)
tax.plot([0, 17.88], [0, 0], color='#221f1c', lw=1)
tax.set_xlim(0, 17.88)
tax.set_ylim(-1, 155)
tax.axis('off')
outline = [pe.Stroke(linewidth=1.0, foreground='white'), pe.Normal()]
put(411, 1342, 'Topography', ha='left', va='baseline', size=34.5, color='#221f1c', path_effects=outline)
dark_outline = [pe.Stroke(linewidth=0.8, foreground='#222222'), pe.Normal()]
put(412, 1421, 'D', ha='left', va='baseline', family=TIMES, size=32, color='white', path_effects=dark_outline)
put(1248, 1421, 'C', ha='left', va='baseline', family=TIMES, size=32, color='white', path_effects=dark_outline)

fig.savefig('out.png', dpi=100, facecolor='white')
plt.close(fig)
